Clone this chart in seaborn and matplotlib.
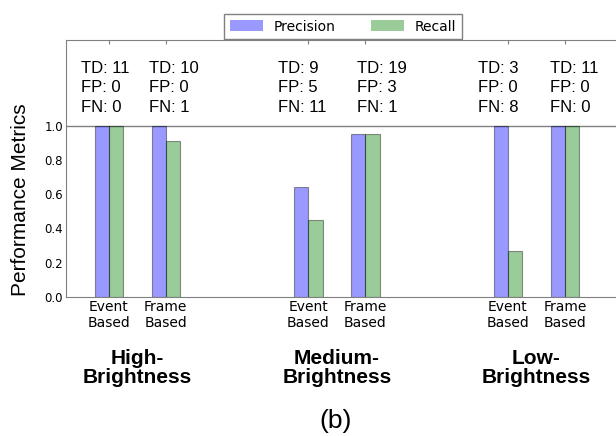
import pandas as pd
import matplotlib
matplotlib.use("Agg")
import matplotlib.pyplot as plt
from matplotlib.patches import Patch
import matplotlib.transforms as mtransforms
import seaborn as sns

# data
conditions = ["High-\nBrightness", "Medium-\nBrightness", "Low-\nBrightness"]
methods = ["Event\nBased", "Frame\nBased"]
precision = [1.0, 1.0, 0.64, 0.95, 1.0, 1.0]
recall = [1.0, 0.91, 0.45, 0.95, 0.27, 1.0]
td = [11, 10, 9, 19, 3, 11]
fp = [0, 0, 5, 3, 0, 0]
fn = [0, 1, 11, 1, 8, 0]

# layout
positions = [0, 1, 3.5, 4.5, 7, 8]
note_dx = [-0.49, -0.29, -0.53, -0.15, -0.53, -0.26]
ARIAL = "Liberation Sans"

sns.set_style("white")
plt.rcParams["font.family"] = ["DejaVu Sans"]
plt.rcParams.update({"text.color": "black", "axes.labelcolor": "black",
                     "xtick.color": "black", "ytick.color": "black"})

df = pd.DataFrame({
    "pos": positions * 2,
    "value": precision + recall,
    "metric": ["Precision"] * 6 + ["Recall"] * 6,
})

fig = plt.figure(figsize=(6.16, 4.36), dpi=100)
ax = fig.add_axes([66 / 616, 139 / 436, 556 / 616, 257 / 436])

sns.barplot(data=df, x="pos", y="value", hue="metric", native_scale=True,
            width=0.5, palette=["blue", "green"], saturation=1, alpha=0.4,
            edgecolor="black", linewidth=0.8, errorbar=None, legend=False,
            ax=ax)

ax.set_xlim(-0.75, 9.0)
ax.set_ylim(0, 1.5)
ax.axhline(1.0, color="gray", lw=1, zorder=0)

ax.set_xticks(positions)
ax.set_xticklabels(methods * 3, fontsize=10)
ax.set_yticks([0.0, 0.2, 0.4, 0.6, 0.8, 1.0])
ax.set_yticklabels(["0.0", "0.2", "0.4", "0.6", "0.8", "1.0"], fontsize=8.5)
ax.tick_params(direction="in", top=True, right=True, length=3, pad=2)
ax.tick_params(which="both", color="gray")
ax.set_xlabel("")
ax.set_ylabel("Performance Metrics", fontsize=15, family=ARIAL)
ax.yaxis.set_label_coords(-36 / 556, 0.377)
for sp in ax.spines.values():
    sp.set_color("gray")

# TD / FP / FN notes above bars
for i, p in enumerate(positions):
    ax.text(p + note_dx[i], 1.082, f"TD: {td[i]}\nFP: {fp[i]}\nFN: {fn[i]}",
            fontsize=12, family=ARIAL, ha="left", va="baseline",
            linespacing=1.37)

# condition labels under groups
trans = mtransforms.blended_transform_factory(ax.transData, ax.transAxes)
for k, cond in enumerate(conditions):
    cx = (positions[2 * k] + positions[2 * k + 1]) / 2
    ax.text(cx, -0.336, cond, transform=trans, fontsize=15, family=ARIAL,
            fontweight="bold", ha="center", va="baseline", linespacing=1.05)

fig.text(0.545, 0.035, "(b)", fontsize=19, family=ARIAL, ha="center",
         va="center")

handles = [Patch(facecolor="blue", alpha=0.4, edgecolor="none", label="Precision"),
           Patch(facecolor="green", alpha=0.4, edgecolor="none", label="Recall")]
leg = fig.legend(handles=handles, loc="upper center",
                 bbox_to_anchor=(343 / 616, 1 - 7 / 436), ncol=2,
                 fancybox=False, edgecolor="gray", fontsize=10,
                 handlelength=2.4, handleheight=0.9, columnspacing=2.5,
                 framealpha=1)
leg.get_frame().set_linewidth(1)

fig.savefig("out.png", dpi=100)
